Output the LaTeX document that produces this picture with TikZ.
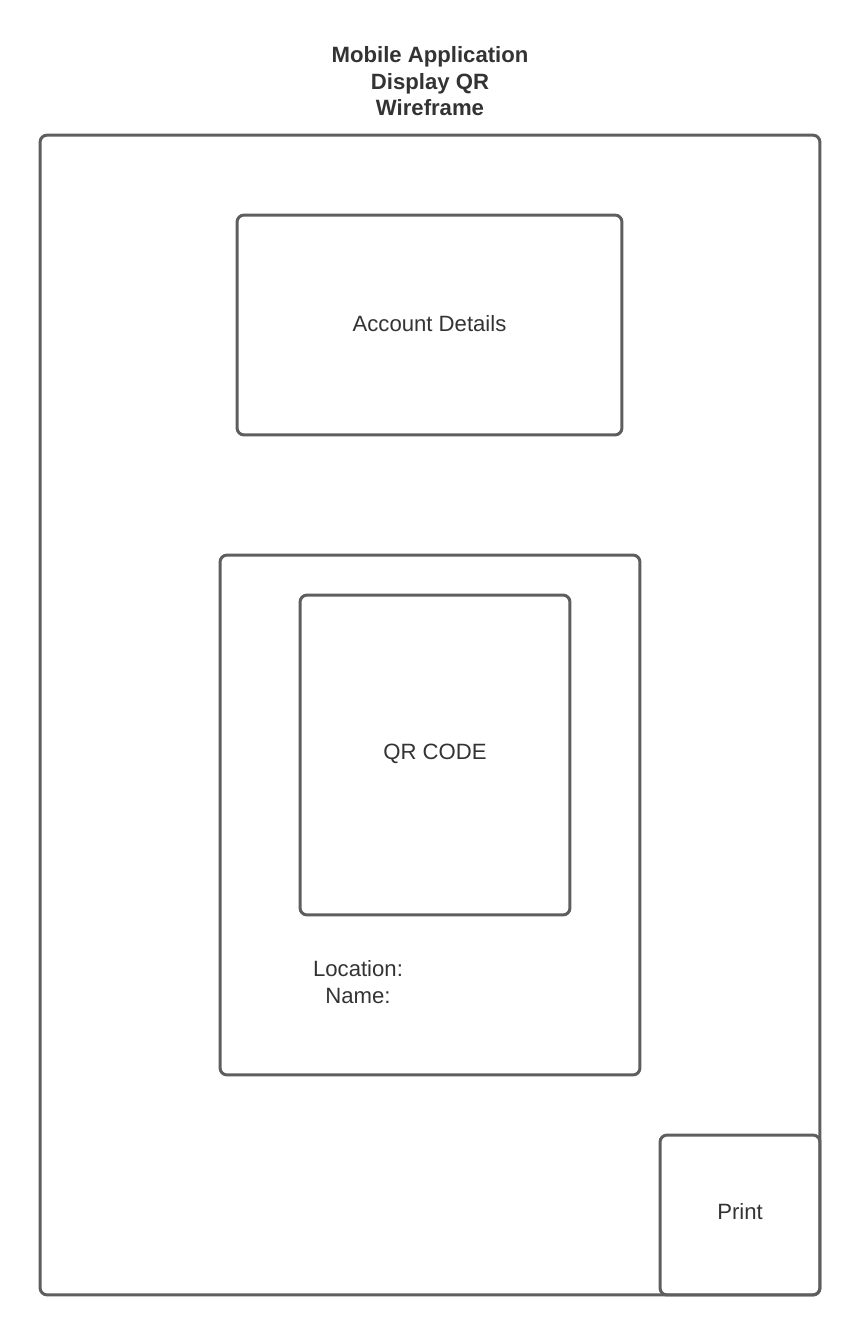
\documentclass[tikz,border=0pt]{standalone}
\usepackage{fontspec}
\setmainfont{Liberation Sans}
\usepackage{xcolor}
\usetikzlibrary{positioning}
\definecolor{wireline}{HTML}{5E5E5E}
\definecolor{wiretext}{HTML}{333333}

\begin{document}
\begin{tikzpicture}[
        x=0.02cm, y=-0.02cm,
        frame/.style={
          draw=wireline,
          line width=1.7pt,
          rounded corners=4pt,
          outer sep=0pt,
          inner sep=0pt,
          align=center,
          text=wiretext,
          font=\fontsize{12.6}{15.3}\selectfont
        },
        label text/.style={
          align=center,
          text=wiretext,
          font=\fontsize{12.6}{15.3}\selectfont
        }
      ]

      \useasboundingbox (0,0) rectangle (860,1335);

      \node[label text, font=\fontsize{12.6}{15.1}\selectfont\bfseries] (title) at (430,81.5)
        {Mobile Application\\Display QR\\Wireframe};

      \node[frame, minimum width=15.6cm, minimum height=23.2cm] (phone) at (430,715) {};
      \node[frame, minimum width=7.7cm, minimum height=4.4cm] (account) at (429.5,325) {};
      \node[label text] (acctext) at (429.5,324) {Account Details};
      \node[frame, minimum width=8.4cm, minimum height=10.4cm] (card) at (430,815) {};
      \node[frame, minimum width=5.4cm, minimum height=6.4cm] (qr) at (435,755) {};
      \node[label text] (qrtext) at (435,754) {QR CODE};
      \node[label text] (info) at (358,982) {Location:\\Name:};
      \node[frame, minimum width=3.2cm, minimum height=3.2cm] (print) at (740,1215) {};
      \node[label text] (printtext) at (740,1212) {Print};

      \end{tikzpicture}
\end{document}
